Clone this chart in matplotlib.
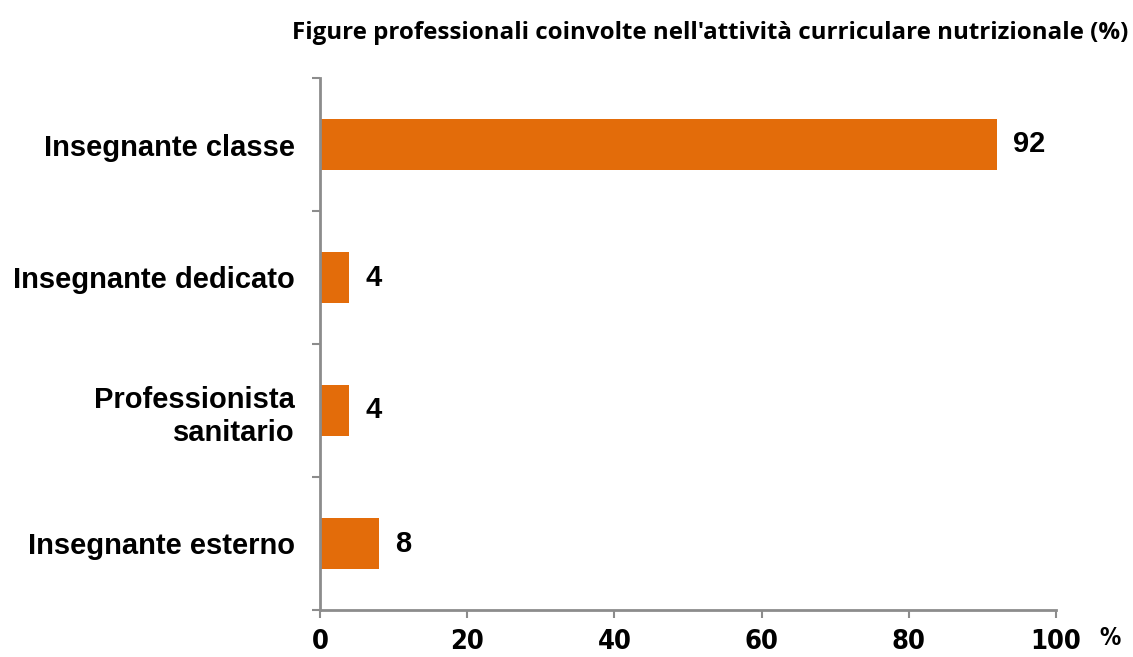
import matplotlib.pyplot as plt
import numpy as np

categories = ["Insegnante classe", "Insegnante dedicato", "Professionista\nsanitario", "Insegnante esterno"]
values = [92, 4, 4, 8]
xticks = [0, 20, 40, 60, 80, 100]
title = "Figure professionali coinvolte nell'attività curriculare nutrizionale (%)"

orange = "#e36c0a"
grey = "#8c8c8c"

fig = plt.figure(figsize=(11.33, 6.57), dpi=100)
ax = fig.add_axes([320 / 1133, 1 - 610 / 657, (1056 - 320) / 1133, (610 - 78) / 657])

y = np.arange(len(categories))
ax.barh(y, values, height=0.39, color=orange)
ax.set_ylim(len(categories) - 0.5, -0.5)
ax.set_xlim(0, 100)

ax.set_yticks(np.arange(len(categories) + 1) - 0.5)
ax.set_yticklabels([])
ax.set_yticks(y, minor=True)
ax.set_yticklabels(categories, minor=True, fontsize=21, fontweight="bold",
                   family=["Liberation Sans", "DejaVu Sans"], ha="right",
                   linespacing=1.25)
ax.tick_params(axis="y", which="minor", length=0, pad=18)
ax.tick_params(axis="y", which="major", length=6, width=1.5, color=grey)

ax.set_xticks(xticks)
ax.set_xticklabels([str(t) for t in xticks], fontsize=19.5, fontweight="bold",
                   family="DejaVu Sans", stretch="condensed")
ax.tick_params(axis="x", length=6, width=1.5, color=grey, pad=8)

for s in ["top", "right"]:
    ax.spines[s].set_visible(False)
for s in ["left", "bottom"]:
    ax.spines[s].set_color(grey)
    ax.spines[s].set_linewidth(2)

for yi, v in zip(y, values):
    ax.text(v + 2.2, yi, str(v), va="center", ha="left", fontsize=21,
            fontweight="bold", family=["Liberation Sans", "DejaVu Sans"])

fig.text(1110 / 1133, 1 - 638 / 657, "%", fontsize=17, fontweight="bold",
         family="DejaVu Sans", stretch="condensed", ha="center", va="center")
fig.text(1128 / 1133, 1 - 33 / 657, title, fontsize=17.4, fontweight="bold",
         family=["Open Sans", "DejaVu Sans"], ha="right", va="center")

fig.savefig("out.png", dpi=100)
